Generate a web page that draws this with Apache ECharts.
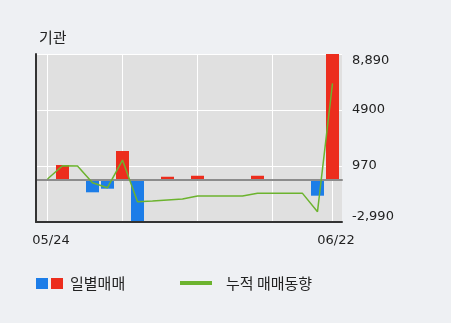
<!DOCTYPE html>
<html>
<head>
<meta charset="utf-8">
<script src="https://cdn.jsdelivr.net/npm/echarts@6/dist/echarts.min.js"></script>
<style>html,body{margin:0;padding:0;background:#eef0f3;}#chart{width:451px;height:323px;}</style>
</head>
<body>
<div id="chart"></div>
<script>
// ---- data ----
const dates = ['05/24','05/25','05/28','05/29','05/30','05/31','06/01','06/04','06/05','06/07',
               '06/08','06/11','06/12','06/14','06/15','06/18','06/19','06/20','06/21','06/22'];
const dailyValues = [0, 1040, 0, -890, -635, 2030, -2970, 0, 210, 0,
                     280, 0, 0, 0, 280, 0, 0, 0, -1130, 8890];
const cumulativeValues = [50, 990, 970, -210, -565, 1390, -1555, -1506, -1435, -1365,
                          -1150, -1150, -1150, -1150, -965, -965, -965, -965, -2260, 6817];
const yTickLabels = ['-2,990', '970', '4900', '8,890'];
const yMin = -2990, yMax = 8890;
const xLabelIdx = [0, 19];
const xGridIdx = [0, 5, 10, 15, 19];

const RED = '#ec2d1d', BLUE = '#1c7de8', GREEN = '#6cb32e';
const KFONT = '"Noto Sans CJK KR", sans-serif';
const NFONT = '"DejaVu Sans", sans-serif';

const chart = echarts.init(document.getElementById('chart'), null, {renderer: 'canvas'});
const hidden = {axisLine:{show:false}, axisTick:{show:false}, axisLabel:{show:false}, splitLine:{show:false}};

chart.setOption({
  backgroundColor: '#eef0f3',
  animation: false,
  title: {text: '기관', left: 34, top: 25, textStyle: {fontFamily: KFONT, fontSize: 15, fontWeight: 'normal', color: '#222'}},
  grid: [
    {left: 36, right: 109, top: 54, bottom: 101, show: true, backgroundColor: '#e0e0e0', borderWidth: 0},
    {left: 47.5, right: 118.5, top: 54, bottom: 101, show: false}
  ],
  xAxis: [
    Object.assign({}, hidden, {gridIndex: 0, type: 'value', min: 0, max: 1, position: 'bottom',
      axisLine: {show: true, onZero: false, lineStyle: {color: '#333', width: 2}}, z: 5}),
    Object.assign({}, hidden, {gridIndex: 0, type: 'value', min: 0, max: 1, position: 'top',
      axisLine: {show: true, onZero: true, onZeroAxisIndex: 1, lineStyle: {color: '#8c8c8c', width: 2}}, z: 3}),
    {gridIndex: 1, type: 'category', data: dates, boundaryGap: false,
      axisLine: {show: false}, axisTick: {show: false},
      axisLabel: {interval: (i) => xLabelIdx.includes(i), margin: 12, padding: [0, 0, 0, 7],
        fontFamily: NFONT, fontSize: 13, color: '#222'},
      splitLine: {show: true, interval: (i) => xGridIdx.includes(i), lineStyle: {color: '#ffffff', width: 1}}}
  ],
  yAxis: [
    {gridIndex: 0, type: 'value', min: 0, max: 3, interval: 1, position: 'right',
      axisLine: {show: false, onZero: false}, axisTick: {show: false},
      splitLine: {show: true, lineStyle: {color: '#ffffff', width: 1}},
      axisLabel: {margin: 10, fontFamily: NFONT, fontSize: 13, color: '#222',
        formatter: (v) => {
          const s = yTickLabels[v];
          if (v === 0) return '{b|' + s + '}';
          if (v === yTickLabels.length - 1) return '{t|' + s + '}';
          return s;
        },
        rich: {
          t: {fontFamily: NFONT, fontSize: 13, color: '#222', padding: [14, 0, 0, 0]},
          b: {fontFamily: NFONT, fontSize: 13, color: '#222', padding: [0, 0, 10, 0]}
        }}},
    Object.assign({}, hidden, {gridIndex: 0, type: 'value', min: yMin, max: yMax, position: 'left',
      axisLine: {show: true, onZero: false, lineStyle: {color: '#333', width: 2}}, z: 5}),
    Object.assign({}, hidden, {gridIndex: 1, type: 'value', min: yMin, max: yMax, axisLine: {show: false, onZero: false}})
  ],
  series: [
    {type: 'bar', xAxisIndex: 2, yAxisIndex: 2, barWidth: 13, clip: false, z: 2,
      data: dailyValues.map(v => ({value: v, itemStyle: {color: v >= 0 ? RED : BLUE}}))},
    {type: 'line', xAxisIndex: 2, yAxisIndex: 2, data: cumulativeValues, symbol: 'none', clip: false, z: 6,
      lineStyle: {color: GREEN, width: 1.5}}
  ],
  graphic: [
    {type: 'rect', shape: {x: 36, y: 278, width: 12, height: 11}, style: {fill: BLUE}},
    {type: 'rect', shape: {x: 51, y: 278, width: 12, height: 11}, style: {fill: RED}},
    {type: 'text', x: 70, y: 283, style: {text: '일별매매', fontFamily: KFONT, fontSize: 15, fill: '#222', verticalAlign: 'middle'}},
    {type: 'line', shape: {x1: 180, y1: 283, x2: 212, y2: 283}, style: {stroke: GREEN, lineWidth: 4}},
    {type: 'text', x: 226, y: 283, style: {text: '누적 매매동향', fontFamily: KFONT, fontSize: 15, fill: '#222', verticalAlign: 'middle'}}
  ]
});
</script>
</body>
</html>
